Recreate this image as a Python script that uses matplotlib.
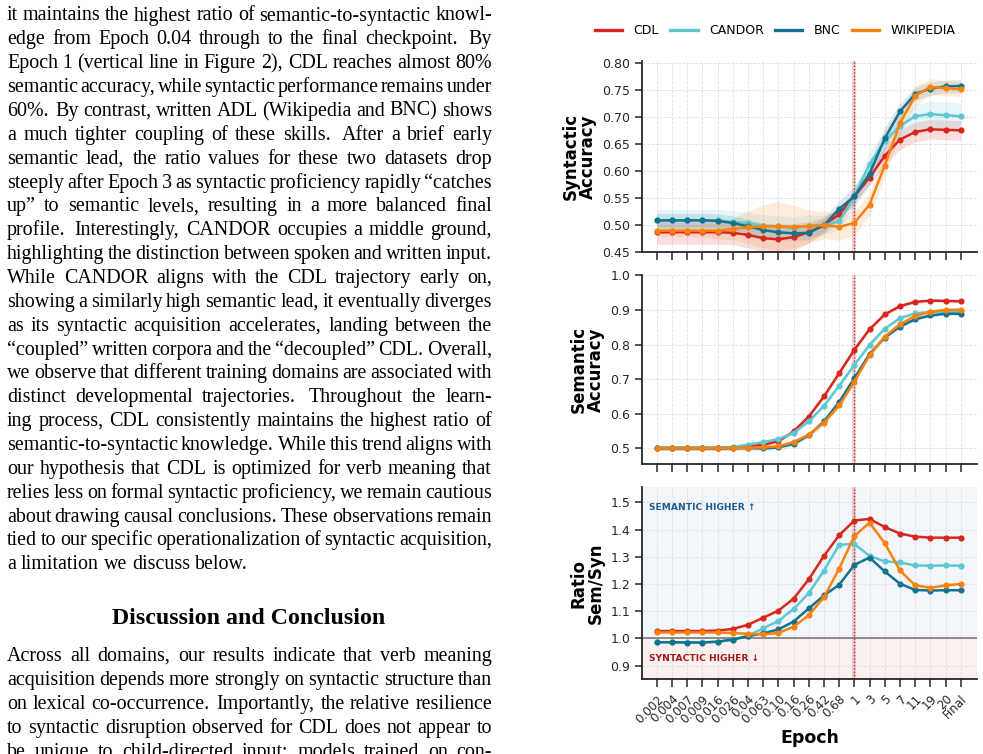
import matplotlib
matplotlib.use('Agg')
import matplotlib.pyplot as plt
from matplotlib.lines import Line2D
import numpy as np

W, H = 983, 754
fig = plt.figure(figsize=(W / 100, H / 100), dpi=100)

# ---------------- data ----------------
epochs = ['0.002', '0.004', '0.007', '0.009', '0.016', '0.026', '0.04', '0.063',
          '0.10', '0.16', '0.26', '0.42', '0.68', '1', '3', '5', '7', '11', '19',
          '20', 'Final']
series = ['CDL', 'CANDOR', 'BNC', 'WIKIPEDIA']

syn_cdl = [0.487, 0.487, 0.487, 0.487, 0.487, 0.486, 0.482, 0.476, 0.474, 0.478, 0.487,
           0.500, 0.520, 0.553, 0.588, 0.628, 0.658, 0.672, 0.677, 0.676, 0.675]
syn_candor = [0.509, 0.509, 0.509, 0.509, 0.509, 0.506, 0.504, 0.499, 0.498, 0.495, 0.499,
              0.500, 0.507, 0.553, 0.613, 0.655, 0.683, 0.701, 0.705, 0.703, 0.701]
syn_bnc = [0.509, 0.509, 0.509, 0.509, 0.508, 0.504, 0.498, 0.491, 0.487, 0.485, 0.486,
           0.500, 0.530, 0.553, 0.595, 0.660, 0.710, 0.742, 0.752, 0.756, 0.757]
syn_wiki = [0.490, 0.490, 0.490, 0.490, 0.490, 0.493, 0.496, 0.498, 0.498, 0.497, 0.498,
            0.500, 0.497, 0.504, 0.538, 0.610, 0.688, 0.739, 0.755, 0.753, 0.751]

syn_sd_cdl = [0.022, 0.022, 0.022, 0.022, 0.022, 0.022, 0.024, 0.026, 0.028, 0.025, 0.020,
              0.015, 0.012, 0.010, 0.014, 0.018, 0.018, 0.018, 0.018, 0.018, 0.018]
syn_sd_candor = [0.020, 0.020, 0.020, 0.020, 0.020, 0.020, 0.020, 0.020, 0.020, 0.020, 0.020,
                 0.018, 0.015, 0.015, 0.022, 0.020, 0.020, 0.022, 0.024, 0.025, 0.025]
syn_sd_bnc = [0.013, 0.013, 0.013, 0.013, 0.013, 0.013, 0.013, 0.013, 0.013, 0.013, 0.013,
              0.013, 0.015, 0.018, 0.020, 0.020, 0.015, 0.012, 0.012, 0.012, 0.012]
syn_sd_wiki = [0.010, 0.010, 0.010, 0.012, 0.015, 0.020, 0.030, 0.040, 0.045, 0.040, 0.030,
               0.025, 0.025, 0.022, 0.020, 0.020, 0.020, 0.018, 0.015, 0.014, 0.014]

sem_cdl = [0.501, 0.501, 0.501, 0.501, 0.501, 0.501, 0.507, 0.510, 0.521, 0.549, 0.592,
           0.650, 0.717, 0.785, 0.844, 0.887, 0.911, 0.923, 0.927, 0.926, 0.925]
sem_candor = [0.502, 0.502, 0.502, 0.502, 0.502, 0.503, 0.511, 0.518, 0.527, 0.545, 0.578,
              0.623, 0.681, 0.741, 0.799, 0.846, 0.876, 0.890, 0.894, 0.895, 0.896]
sem_bnc = [0.501, 0.501, 0.501, 0.501, 0.501, 0.501, 0.501, 0.500, 0.503, 0.513, 0.538,
           0.578, 0.634, 0.703, 0.773, 0.820, 0.852, 0.873, 0.884, 0.889, 0.889]
sem_wiki = [0.501, 0.501, 0.501, 0.501, 0.501, 0.501, 0.502, 0.503, 0.506, 0.518, 0.540,
            0.574, 0.624, 0.693, 0.769, 0.823, 0.859, 0.882, 0.895, 0.900, 0.901]
sem_sd = [0.006, 0.006, 0.006, 0.006, 0.006, 0.006, 0.006, 0.006, 0.006, 0.006, 0.006,
          0.006, 0.006, 0.006, 0.005, 0.005, 0.005, 0.005, 0.005, 0.005, 0.005]

ratio_cdl = [1.027, 1.027, 1.027, 1.027, 1.029, 1.035, 1.050, 1.076, 1.102, 1.146, 1.217,
             1.303, 1.379, 1.433, 1.439, 1.409, 1.385, 1.374, 1.370, 1.370, 1.370]
ratio_candor = [0.986, 0.986, 0.986, 0.986, 0.988, 0.995, 1.010, 1.037, 1.064, 1.108, 1.166,
                1.249, 1.344, 1.347, 1.303, 1.283, 1.279, 1.268, 1.267, 1.268, 1.267]
ratio_bnc = [0.986, 0.986, 0.985, 0.985, 0.988, 0.996, 1.008, 1.019, 1.033, 1.062, 1.110,
             1.158, 1.197, 1.270, 1.297, 1.246, 1.201, 1.178, 1.176, 1.177, 1.177]
ratio_wiki = [1.022, 1.022, 1.022, 1.022, 1.022, 1.020, 1.017, 1.015, 1.020, 1.043, 1.085,
              1.151, 1.256, 1.376, 1.425, 1.350, 1.250, 1.195, 1.186, 1.195, 1.200]

colors = {'CDL': '#d7261e', 'CANDOR': '#5ec8d2', 'BNC': '#14728f', 'WIKIPEDIA': '#f7820f'}

syn = {'CDL': syn_cdl, 'CANDOR': syn_candor, 'BNC': syn_bnc, 'WIKIPEDIA': syn_wiki}
syn_sd = {'CDL': syn_sd_cdl, 'CANDOR': syn_sd_candor, 'BNC': syn_sd_bnc, 'WIKIPEDIA': syn_sd_wiki}
sem = {'CDL': sem_cdl, 'CANDOR': sem_candor, 'BNC': sem_bnc, 'WIKIPEDIA': sem_wiki}
ratio = {'CDL': ratio_cdl, 'CANDOR': ratio_candor, 'BNC': ratio_bnc, 'WIKIPEDIA': ratio_wiki}

# ---------------- left text column ----------------
para1 = [
    "it maintains the highest ratio of semantic-to-syntactic knowl-",
    "edge from Epoch 0.04 through to the final checkpoint. By",
    "Epoch 1 (vertical line in Figure 2), CDL reaches almost 80%",
    "semantic accuracy, while syntactic performance remains under",
    "60%. By contrast, written ADL (Wikipedia and BNC) shows",
    "a much tighter coupling of these skills. After a brief early",
    "semantic lead, the ratio values for these two datasets drop",
    "steeply after Epoch 3 as syntactic proficiency rapidly \u201ccatches",
    "up\u201d to semantic levels, resulting in a more balanced final",
    "profile. Interestingly, CANDOR occupies a middle ground,",
    "highlighting the distinction between spoken and written input.",
    "While CANDOR aligns with the CDL trajectory early on,",
    "showing a similarly high semantic lead, it eventually diverges",
    "as its syntactic acquisition accelerates, landing between the",
    "\u201ccoupled\u201d written corpora and the \u201cdecoupled\u201d CDL. Overall,",
    "we observe that different training domains are associated with",
    "distinct developmental trajectories. Throughout the learn-",
    "ing process, CDL consistently maintains the highest ratio of",
    "semantic-to-syntactic knowledge. While this trend aligns with",
    "our hypothesis that CDL is optimized for verb meaning that",
    "relies less on formal syntactic proficiency, we remain cautious",
    "about drawing causal conclusions. These observations remain",
    "tied to our specific operationalization of syntactic acquisition,",
    "a limitation we discuss below.",
]
heading = "Discussion and Conclusion"
para2 = [
    "Across all domains, our results indicate that verb meaning",
    "acquisition depends more strongly on syntactic structure than",
    "on lexical co-occurrence. Importantly, the relative resilience",
    "to syntactic disruption observed for CDL does not appear to",
    "be unique to child-directed input; models trained on con-",
]

renderer = fig.canvas.get_renderer()
SERIF = ['Liberation Serif', 'DejaVu Serif']
TX_L, TX_R = 7.0, 492.0
FS = 14.4


def fx(px):
    return px / W


def fy(py):
    return 1 - py / H


def put_line(s, base_y, justify):
    words = s.split()
    texts, widths = [], []
    for w_ in words:
        t = fig.text(0, fy(base_y), w_, fontsize=FS, family=SERIF, va='baseline',
                     ha='left', color='black')
        texts.append(t)
        widths.append(t.get_window_extent(renderer).width)
    space = fig.text(0, 0, 'a a', fontsize=FS, family=SERIF).get_window_extent(renderer).width \
        - 2 * fig.text(0, 0, 'a', fontsize=FS, family=SERIF).get_window_extent(renderer).width
    for t in fig.texts[-3:]:
        if t not in texts:
            t.remove()
    weights = []
    for w_ in words[:-1]:
        if w_.endswith('.') and len(w_) > 1 and (w_[-2].islower() or w_[-2] in '%0123456789'):
            weights.append(1.45)
        elif w_.endswith(','):
            weights.append(1.1)
        else:
            weights.append(1.0)
    if justify and len(words) > 1:
        unit = (TX_R - TX_L - sum(widths)) / sum(weights)
    else:
        unit = space
    x = TX_L
    for i, t in enumerate(texts):
        t.set_x(fx(x))
        x += widths[i]
        if i < len(weights):
            x += unit * weights[i]


b0, step = 20.5, 23.86
for i, line in enumerate(para1):
    put_line(line, b0 + i * step, justify=(i < len(para1) - 1))

fig.text(fx(249), fy(624.3), heading, fontsize=17.2, family=SERIF, weight='bold',
         ha='center', va='baseline')
for i, line in enumerate(para2):
    put_line(line, 661.0 + i * 24.0, justify=True)

# ---------------- chart ----------------
TXT = '#262626'
SANS = ['DejaVu Sans']
ax_l, ax_r = 642, 977
panels = [(61.0, 252.3), (275.3, 464.0), (487.3, 679.3)]
axes = []
for top, bot in panels:
    ax = fig.add_axes([fx(ax_l), fy(bot), (ax_r - ax_l) / W, (bot - top) / H])
    axes.append(ax)

x = np.arange(len(epochs))
for ax in axes:
    ax.set_xlim(-0.97, 21.07)
    ax.set_xticks(x)
    ax.grid(True, color='#d9d9d9', linestyle='--', linewidth=0.6, alpha=0.8)
    ax.set_axisbelow(True)
    for s in ['top', 'right']:
        ax.spines[s].set_visible(False)
    for s in ['left', 'bottom']:
        ax.spines[s].set_color(TXT)
        ax.spines[s].set_linewidth(1.3)
    ax.tick_params(axis='both', colors=TXT, labelsize=9, width=1.1, length=5)
    ax.tick_params(axis='x', length=6)
    ax.axvline(13, color='#e07a7a', linewidth=3, alpha=0.35, zorder=1)
    ax.axvline(13, color='#a8202a', linewidth=0.9, linestyle=':', zorder=1.5)

line_kw = dict(linewidth=1.8, marker='o', markersize=3.4)

# Syntactic
ax = axes[0]
for s in series:
    m = np.array(syn[s])
    sd = np.array(syn_sd[s])
    ax.fill_between(x, m - sd, m + sd, color=colors[s], alpha=0.15, linewidth=0, zorder=2)
for s in series:
    ax.plot(x, syn[s], color=colors[s], zorder=3, **line_kw)
ax.set_ylim(0.45, 0.803)
ax.set_yticks(np.arange(0.45, 0.801, 0.05))
ax.set_yticklabels([f'{v:.2f}' for v in np.arange(0.45, 0.801, 0.05)])
ax.set_xticklabels([])
ax.set_ylabel('Syntactic\nAccuracy', fontsize=12, weight='bold', family=SANS,
              color='black', labelpad=4, linespacing=0.95)

# Semantic
ax = axes[1]
for s in series:
    m = np.array(sem[s])
    sd = np.array(sem_sd)
    ax.fill_between(x, m - sd, m + sd, color=colors[s], alpha=0.15, linewidth=0, zorder=2)
for s in series:
    ax.plot(x, sem[s], color=colors[s], zorder=3, **line_kw)
ax.set_ylim(0.455, 1.0)
ax.set_yticks(np.arange(0.5, 1.001, 0.1))
ax.set_yticklabels([f'{v:.1f}' for v in np.arange(0.5, 1.001, 0.1)])
ax.set_xticklabels([])
ax.set_ylabel('Semantic\nAccuracy', fontsize=12, weight='bold', family=SANS,
              color='black', labelpad=4, linespacing=0.95)

# Ratio
ax = axes[2]
ax.set_ylim(0.85, 1.555)
ax.axhspan(1.0, 1.555, color='#eaf1f8', alpha=0.6, zorder=0, linewidth=0)
ax.axhspan(0.85, 1.0, color='#f9e6e6', alpha=0.6, zorder=0, linewidth=0)
ax.axhline(1.0, color='#7a7a7a', linewidth=1.2, zorder=1.2)
for s in series:
    ax.plot(x, ratio[s], color=colors[s], zorder=3, **line_kw)
ax.set_yticks(np.arange(0.9, 1.501, 0.1))
ax.set_yticklabels([f'{v:.1f}' for v in np.arange(0.9, 1.501, 0.1)])
ax.set_xticklabels(epochs, rotation=45, ha='right', rotation_mode='anchor', fontsize=8.6)
ax.set_ylabel('Ratio\nSem/Syn', fontsize=12, weight='bold', family=SANS,
              color='black', labelpad=4, linespacing=0.95)
ax.set_xlabel('Epoch', fontsize=12.5, weight='bold', family=SANS, color='black', labelpad=2)
ax.text(0.02, 0.894, 'SEMANTIC HIGHER \u2191', transform=ax.transAxes, fontsize=6.6,
        weight='bold', color='#1f5a96', va='center', ha='left', family=SANS)
ax.text(0.02, 0.109, 'SYNTACTIC HIGHER \u2193', transform=ax.transAxes, fontsize=6.6,
        weight='bold', color='#a31818', va='center', ha='left', family=SANS)

# Legend
handles = [Line2D([0], [0], color=colors[s], linewidth=2.4) for s in series]
fig.legend(handles, series, loc='center', bbox_to_anchor=(fx(775), fy(31)), ncol=4,
           frameon=False, fontsize=9, handlelength=2.2, handletextpad=0.9,
           columnspacing=0.9, prop={'family': SANS, 'size': 9})

fig.savefig('out.png', dpi=100)
